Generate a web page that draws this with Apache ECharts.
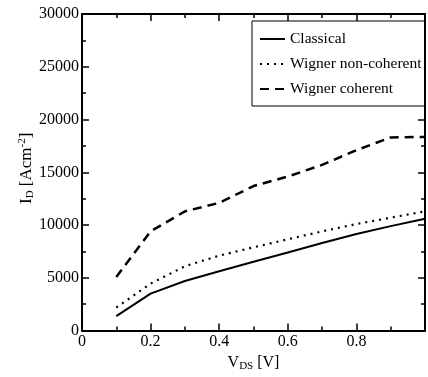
<!DOCTYPE html>
<html>
<head>
<meta charset="utf-8">
<script src="https://cdn.jsdelivr.net/npm/echarts@6/dist/echarts.min.js"></script>
<style>html,body{margin:0;padding:0;background:#fff}#c{width:428px;height:377px}</style>
</head>
<body>
<div id="c"></div>
<script>
var vds = [0.1, 0.2, 0.3, 0.4, 0.5, 0.6, 0.7, 0.8, 0.9, 1.0];
var classical = [1370, 3500, 4700, 5630, 6520, 7400, 8300, 9150, 9900, 10600];
var wignerNonCoherent = [2190, 4450, 6100, 7100, 7890, 8650, 9400, 10100, 10700, 11300];
var wignerCoherent = [5080, 9400, 11300, 12100, 13700, 14600, 15700, 17100, 18300, 18350];
var xTicks = [0, 0.2, 0.4, 0.6, 0.8];
var yTicks = [0, 5000, 10000, 15000, 20000, 25000, 30000];

function pairs(ys) { return vds.map(function (x, i) { return [x, ys[i]]; }); }
var FONT = 'Liberation Serif';
var FS = 16;

var chart = echarts.init(document.getElementById('c'), null, { renderer: 'canvas' });
var axisCommon = {
  axisLine: { show: true, onZero: false, lineStyle: { color: '#000', width: 2 } },
  axisTick: { show: true, inside: true, length: 7, lineStyle: { color: '#000', width: 1.5 } },
  minorTick: { show: true, splitNumber: 2, length: 4, lineStyle: { color: '#000', width: 1.5 } },
  splitLine: { show: false }
};
chart.setOption({
  animation: false,
  backgroundColor: '#fff',
  grid: { left: 82, top: 14, right: -4, bottom: 35, containLabel: false },
  legend: {
    orient: 'vertical', left: 252, top: 21,
    padding: [10, 3, 9, 7], itemGap: 9, itemWidth: 25, itemHeight: 14,
    borderColor: '#000', borderWidth: 1, backgroundColor: '#fff',
    itemStyle: { color: 'transparent', borderWidth: 0, opacity: 0 },
    textStyle: { fontFamily: FONT, fontSize: 15.5, color: '#000' },
    data: ['Classical', 'Wigner non-coherent', 'Wigner coherent']
  },
  xAxis: [
    Object.assign({
      type: 'value', min: 0, max: 1, interval: 0.2,
      axisLabel: {
        fontFamily: FONT, fontSize: FS, color: '#000', margin: 3,
        formatter: function (v) {
          for (var i = 0; i < xTicks.length; i++) if (Math.abs(v - xTicks[i]) < 1e-9) return String(xTicks[i]);
          return '';
        }
      },
      name: '{a|V}{s|DS}{a| [V]}', nameLocation: 'middle', nameGap: 12,
      nameTextStyle: {
        rich: {
          a: { fontFamily: FONT, fontSize: FS, color: '#000' },
          s: { fontFamily: FONT, fontSize: 11, color: '#000', padding: [8, 0, 0, 0] }
        }
      }
    }, axisCommon),
    Object.assign({
      type: 'value', min: 0, max: 1, interval: 0.2, position: 'top',
      axisLabel: { show: false }
    }, axisCommon)
  ],
  yAxis: [
    Object.assign({
      type: 'value', min: 0, max: 30000, interval: 5000,
      axisLabel: {
        fontFamily: FONT, fontSize: FS, color: '#000', margin: 3,
        formatter: function (v) { return yTicks.indexOf(v) >= 0 ? String(v) : ''; }
      },
      name: '{a|I}{s|D}{a| [Acm}{p|-2}{a|]}', nameLocation: 'middle', nameGap: 46,
      nameMoveOverlap: false,
      nameTextStyle: {
        padding: [0, 0, 0, 8],
        rich: {
          a: { fontFamily: FONT, fontSize: FS + 1, color: '#000' },
          s: { fontFamily: FONT, fontSize: 11, color: '#000', padding: [8, 0, 0, 0] },
          p: { fontFamily: FONT, fontSize: 11, color: '#000', padding: [0, 0, 8, 0] }
        }
      }
    }, axisCommon),
    Object.assign({
      type: 'value', min: 0, max: 30000, interval: 5000, position: 'right',
      axisLabel: { show: false }
    }, axisCommon)
  ],
  series: [
    { name: 'Classical', type: 'line', data: pairs(classical), symbol: 'none', showSymbol: false,
      lineStyle: { color: '#000', width: 2, type: 'solid' }, itemStyle: { color: '#000' } },
    { name: 'Wigner non-coherent', type: 'line', data: pairs(wignerNonCoherent), symbol: 'none', showSymbol: false,
      lineStyle: { color: '#000', width: 2.2, type: [2, 5] }, itemStyle: { color: '#000' } },
    { name: 'Wigner coherent', type: 'line', data: pairs(wignerCoherent), symbol: 'none', showSymbol: false,
      lineStyle: { color: '#000', width: 2.5, type: [9, 6] }, itemStyle: { color: '#000' } }
  ]
});
</script>
</body>
</html>
